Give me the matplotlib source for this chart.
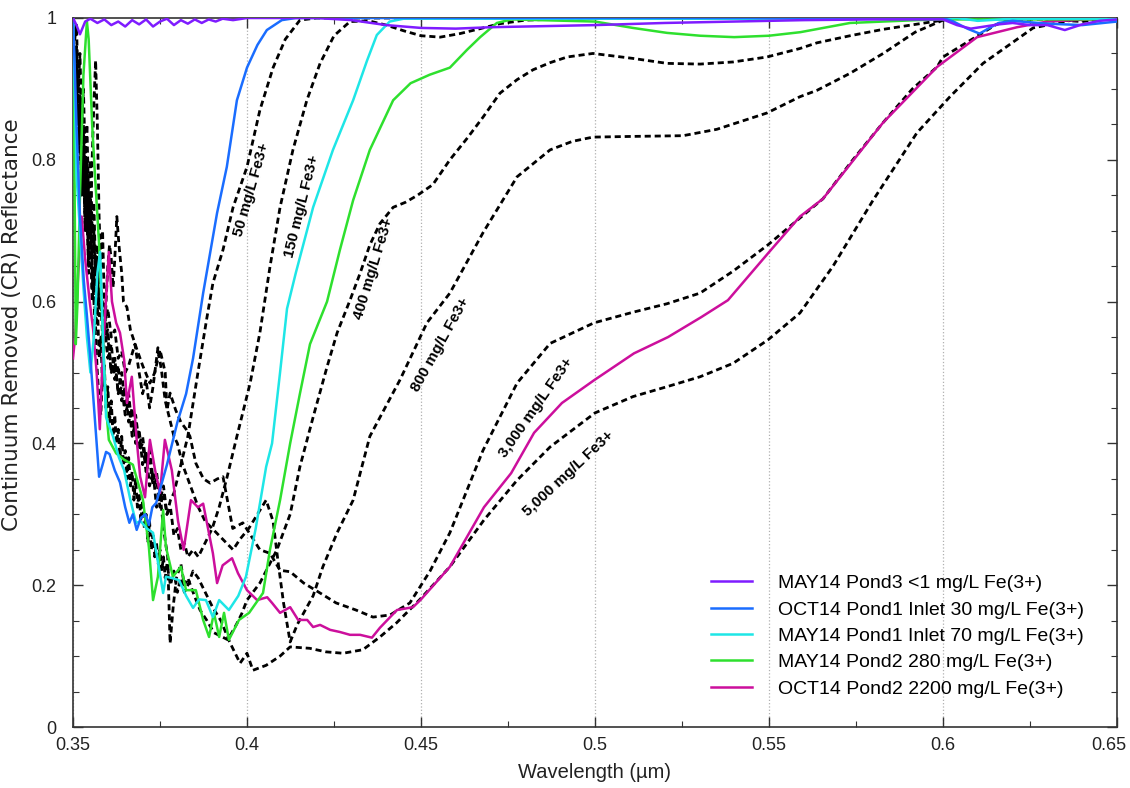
import matplotlib
matplotlib.use("Agg")
import matplotlib.pyplot as plt
import matplotlib.ticker as ticker
import matplotlib.transforms as mtransforms
import numpy as np

plt.rcParams['font.family'] = ['Liberation Sans', 'DejaVu Sans']

# (wavelength um, continuum removed reflectance) for each field spectrum
may14_pond3 = np.array([
    (0.350, 1.000), (0.351, 0.990), (0.352, 0.977), (0.3535, 0.995), (0.355, 0.999),
    (0.357, 0.993), (0.359, 0.998), (0.361, 0.990), (0.363, 0.995), (0.365, 0.988),
    (0.367, 0.997), (0.369, 0.991), (0.371, 0.998), (0.373, 0.988), (0.375, 0.995),
    (0.377, 0.999), (0.379, 0.990), (0.381, 0.997), (0.383, 0.992), (0.385, 0.998),
    (0.387, 0.993), (0.389, 0.998), (0.391, 0.995), (0.393, 0.999), (0.396, 0.997),
    (0.400, 1.000), (0.420, 1.000), (0.430, 0.997), (0.440, 0.990), (0.450, 0.986),
    (0.460, 0.985), (0.470, 0.987), (0.480, 0.988), (0.500, 0.990), (0.520, 0.993),
    (0.540, 0.995), (0.560, 0.997), (0.580, 0.998), (0.600, 0.998), (0.604, 0.990),
    (0.608, 0.985), (0.612, 0.988), (0.616, 0.991), (0.620, 0.993), (0.625, 0.990),
    (0.630, 0.990), (0.635, 0.983), (0.640, 0.991), (0.645, 0.996), (0.650, 0.998)])

oct14_pond1 = np.array([
    (0.350, 1.000), (0.3505, 0.93), (0.351, 0.85), (0.352, 0.72), (0.3531, 0.63),
    (0.354, 0.58), (0.355, 0.52), (0.3565, 0.42), (0.3575, 0.353), (0.3585, 0.37),
    (0.3595, 0.388), (0.3605, 0.385), (0.362, 0.362), (0.3635, 0.345), (0.365, 0.31),
    (0.3662, 0.288), (0.3672, 0.30), (0.3683, 0.278), (0.3695, 0.295), (0.3708, 0.30),
    (0.3718, 0.285), (0.3728, 0.31), (0.3739, 0.316), (0.375, 0.335), (0.377, 0.37),
    (0.380, 0.43), (0.3825, 0.47), (0.3845, 0.52), (0.3874, 0.612), (0.3914, 0.725),
    (0.3942, 0.79), (0.3971, 0.884), (0.400, 0.93), (0.403, 0.962), (0.4057, 0.983),
    (0.410, 0.997), (0.414, 1.000), (0.600, 1.000), (0.603, 0.995), (0.607, 0.985),
    (0.6105, 0.978), (0.613, 0.985), (0.616, 0.993), (0.620, 0.996), (0.630, 0.992),
    (0.640, 0.990), (0.650, 0.995)])

may14_pond1 = np.array([
    (0.350, 1.000), (0.3505, 0.90), (0.351, 0.78), (0.352, 0.70), (0.353, 0.62),
    (0.354, 0.55), (0.355, 0.50), (0.356, 0.55), (0.357, 0.64), (0.3578, 0.67),
    (0.3586, 0.55), (0.3595, 0.437), (0.3615, 0.41), (0.3632, 0.38), (0.3647, 0.362),
    (0.3665, 0.32), (0.3681, 0.288), (0.3695, 0.29), (0.3712, 0.28), (0.373, 0.274),
    (0.3745, 0.23), (0.3759, 0.189), (0.3767, 0.212), (0.3785, 0.21), (0.3805, 0.207),
    (0.3825, 0.185), (0.3845, 0.168), (0.3862, 0.18), (0.3882, 0.179), (0.3902, 0.155),
    (0.392, 0.179), (0.3948, 0.165), (0.3975, 0.185), (0.3997, 0.212), (0.4025, 0.28),
    (0.4055, 0.367), (0.4072, 0.40), (0.4095, 0.50), (0.4115, 0.590), (0.4140, 0.640),
    (0.4175, 0.705), (0.419, 0.733), (0.4247, 0.814), (0.4305, 0.884), (0.4345, 0.94),
    (0.4373, 0.976), (0.441, 0.995), (0.445, 0.999), (0.600, 0.999), (0.604, 1.000),
    (0.610, 0.996), (0.620, 0.999), (0.650, 0.999)])

may14_pond2 = np.array([
    (0.350, 1.000), (0.3504, 0.80), (0.3508, 0.54), (0.3513, 0.60), (0.352, 0.75),
    (0.353, 0.92), (0.354, 0.995), (0.3545, 0.97), (0.3555, 0.85), (0.3563, 0.78),
    (0.3575, 0.68), (0.3586, 0.55), (0.3595, 0.45), (0.3603, 0.405), (0.3624, 0.386),
    (0.3647, 0.377), (0.3672, 0.37), (0.3701, 0.32), (0.3718, 0.254), (0.373, 0.179),
    (0.3744, 0.212), (0.3759, 0.306), (0.3767, 0.254), (0.3787, 0.212), (0.381, 0.226),
    (0.3825, 0.193), (0.3853, 0.193), (0.3874, 0.151), (0.3891, 0.127), (0.3905, 0.161),
    (0.392, 0.127), (0.3934, 0.161), (0.3948, 0.123), (0.3977, 0.151), (0.4006, 0.161),
    (0.4026, 0.175), (0.4046, 0.189), (0.4066, 0.25), (0.4095, 0.32), (0.4124, 0.40),
    (0.4152, 0.47), (0.4181, 0.54), (0.423, 0.60), (0.4267, 0.673), (0.4305, 0.743),
    (0.4353, 0.814), (0.442, 0.884), (0.447, 0.908), (0.4525, 0.92), (0.4583, 0.93),
    (0.4632, 0.955), (0.467, 0.973), (0.4718, 0.993), (0.476, 0.998), (0.500, 0.995),
    (0.5109, 0.986), (0.5207, 0.979), (0.5302, 0.975), (0.540, 0.973), (0.550, 0.975),
    (0.559, 0.980), (0.5733, 0.993), (0.5925, 0.997), (0.600, 0.998), (0.650, 0.998)])

oct14_pond2 = np.array([
    (0.350, 0.52), (0.3506, 0.55), (0.3515, 0.64), (0.3525, 0.72), (0.3535, 0.66),
    (0.3548, 0.60), (0.3558, 0.56), (0.3568, 0.50), (0.3577, 0.42), (0.3586, 0.53),
    (0.3597, 0.62), (0.3603, 0.67), (0.3612, 0.60), (0.3624, 0.57), (0.3635, 0.556),
    (0.3647, 0.518), (0.3655, 0.457), (0.3669, 0.494), (0.3683, 0.405), (0.3693, 0.353),
    (0.3707, 0.324), (0.3721, 0.405), (0.3736, 0.362), (0.375, 0.33), (0.3764, 0.405),
    (0.3784, 0.362), (0.3802, 0.29), (0.3818, 0.25), (0.3839, 0.32), (0.3859, 0.31),
    (0.3874, 0.315), (0.3902, 0.245), (0.3914, 0.203), (0.393, 0.228), (0.3957, 0.238),
    (0.3974, 0.217), (0.400, 0.193), (0.4029, 0.179), (0.4058, 0.183), (0.4072, 0.175),
    (0.4095, 0.161), (0.4124, 0.169), (0.4147, 0.151), (0.4173, 0.151), (0.419, 0.141),
    (0.421, 0.144), (0.4239, 0.137), (0.4267, 0.134), (0.4296, 0.130), (0.4325, 0.130),
    (0.4359, 0.126), (0.4382, 0.140), (0.4431, 0.165), (0.4477, 0.169), (0.450, 0.180),
    (0.4583, 0.226), (0.4681, 0.31), (0.4759, 0.358), (0.4825, 0.415), (0.4905, 0.457),
    (0.4997, 0.489), (0.5112, 0.527), (0.521, 0.550), (0.5305, 0.578), (0.5382, 0.602),
    (0.5497, 0.668), (0.5589, 0.72), (0.5655, 0.745), (0.5827, 0.852), (0.5983, 0.931),
    (0.6098, 0.973), (0.6213, 0.987), (0.630, 0.995), (0.650, 1.000)])

# laboratory Fe3+ standards (dashed)
std_50 = np.array([
    (0.350, 1.000), (0.3505, 0.97), (0.351, 0.99), (0.3515, 0.90), (0.352, 0.95),
    (0.3525, 0.85), (0.353, 0.90), (0.3535, 0.80), (0.354, 0.85), (0.3545, 0.74),
    (0.355, 0.80), (0.3555, 0.70), (0.356, 0.74), (0.3565, 0.64), (0.357, 0.68),
    (0.3575, 0.60), (0.358, 0.62), (0.359, 0.55), (0.360, 0.56), (0.361, 0.50),
    (0.362, 0.52), (0.363, 0.47), (0.364, 0.48), (0.365, 0.44), (0.366, 0.46),
    (0.367, 0.41), (0.368, 0.43), (0.369, 0.39), (0.370, 0.40), (0.371, 0.36),
    (0.372, 0.38), (0.373, 0.34), (0.374, 0.35), (0.375, 0.31), (0.376, 0.33),
    (0.377, 0.30), (0.378, 0.32), (0.379, 0.33), (0.380, 0.35), (0.3815, 0.38),
    (0.383, 0.41), (0.3859, 0.50), (0.3885, 0.578), (0.3902, 0.626), (0.3931, 0.673),
    (0.396, 0.733), (0.400, 0.79), (0.4037, 0.87), (0.4075, 0.93), (0.411, 0.97),
    (0.4152, 0.997), (0.420, 1.000), (0.600, 1.000), (0.605, 1.003), (0.610, 0.997),
    (0.615, 0.999), (0.620, 1.000), (0.650, 1.000)])

std_150 = np.array([
    (0.350, 0.98), (0.3505, 0.90), (0.351, 0.93), (0.3515, 0.82), (0.352, 0.87),
    (0.3525, 0.75), (0.353, 0.80), (0.3535, 0.70), (0.354, 0.72), (0.3545, 0.64),
    (0.355, 0.70), (0.3555, 0.80), (0.356, 0.88), (0.3565, 0.94), (0.357, 0.85),
    (0.3575, 0.72), (0.358, 0.65), (0.3585, 0.70), (0.359, 0.60), (0.360, 0.55),
    (0.361, 0.50), (0.362, 0.52), (0.363, 0.47), (0.364, 0.50), (0.365, 0.45),
    (0.366, 0.47), (0.367, 0.42), (0.368, 0.44), (0.369, 0.40), (0.370, 0.41),
    (0.371, 0.37), (0.372, 0.39), (0.373, 0.35), (0.374, 0.36), (0.375, 0.32),
    (0.376, 0.34), (0.377, 0.30), (0.378, 0.31), (0.379, 0.27), (0.380, 0.28),
    (0.381, 0.25), (0.382, 0.26), (0.383, 0.24), (0.3845, 0.25), (0.386, 0.24),
    (0.388, 0.26), (0.390, 0.28), (0.392, 0.31), (0.3943, 0.353), (0.3971, 0.41),
    (0.4009, 0.485), (0.4037, 0.556), (0.4066, 0.649), (0.4095, 0.733), (0.4132, 0.814),
    (0.4172, 0.884), (0.421, 0.936), (0.425, 0.975), (0.4296, 0.995), (0.435, 0.996),
    (0.440, 0.990), (0.445, 0.982), (0.450, 0.975), (0.4555, 0.973), (0.4612, 0.978),
    (0.467, 0.985), (0.4727, 0.992), (0.480, 0.997), (0.500, 1.000), (0.600, 1.000),
    (0.6035, 0.998), (0.608, 1.003), (0.613, 1.000), (0.620, 0.998), (0.650, 1.000)])

std_400 = np.array([
    (0.350, 0.99), (0.3505, 0.90), (0.351, 0.95), (0.3515, 0.86), (0.352, 0.90),
    (0.3525, 0.80), (0.353, 0.84), (0.3535, 0.76), (0.354, 0.80), (0.3545, 0.70),
    (0.355, 0.74), (0.3555, 0.66), (0.356, 0.70), (0.3565, 0.62), (0.357, 0.66),
    (0.3575, 0.58), (0.358, 0.60), (0.3585, 0.55), (0.359, 0.57), (0.360, 0.52),
    (0.361, 0.54), (0.362, 0.49), (0.363, 0.51), (0.364, 0.46), (0.365, 0.48),
    (0.366, 0.43), (0.367, 0.45), (0.368, 0.40), (0.369, 0.42), (0.370, 0.37),
    (0.371, 0.39), (0.372, 0.34), (0.373, 0.36), (0.374, 0.31), (0.375, 0.33),
    (0.376, 0.28), (0.3772, 0.24), (0.3779, 0.118), (0.3788, 0.17), (0.3797, 0.21),
    (0.381, 0.23), (0.382, 0.20), (0.383, 0.21), (0.3845, 0.19), (0.3865, 0.165),
    (0.3885, 0.15), (0.3905, 0.133), (0.3925, 0.128), (0.3945, 0.123), (0.397, 0.145),
    (0.3985, 0.16), (0.400, 0.179), (0.4037, 0.203), (0.4086, 0.25), (0.4124, 0.30),
    (0.4152, 0.367), (0.419, 0.437), (0.423, 0.508), (0.4259, 0.556), (0.4296, 0.602),
    (0.4325, 0.64), (0.4353, 0.68), (0.4382, 0.71), (0.442, 0.733), (0.4455, 0.74),
    (0.449, 0.75), (0.4534, 0.765), (0.4583, 0.80), (0.4632, 0.83), (0.4678, 0.86),
    (0.4727, 0.894), (0.4776, 0.913), (0.4822, 0.927), (0.4871, 0.937), (0.492, 0.945),
    (0.4994, 0.950), (0.5109, 0.943), (0.5207, 0.936), (0.5302, 0.935), (0.5397, 0.938),
    (0.5494, 0.945), (0.5589, 0.957), (0.5638, 0.965), (0.5733, 0.975), (0.5828, 0.984),
    (0.5934, 0.992), (0.600, 0.997), (0.605, 1.004), (0.610, 1.005), (0.615, 1.000),
    (0.620, 0.998), (0.625, 1.003), (0.630, 1.000), (0.640, 0.997), (0.650, 1.000)])

std_800 = np.array([
    (0.350, 1.000), (0.3505, 0.93), (0.351, 0.96), (0.3515, 0.85), (0.352, 0.88),
    (0.3525, 0.78), (0.353, 0.82), (0.3535, 0.72), (0.354, 0.76), (0.3545, 0.66),
    (0.355, 0.70), (0.3555, 0.62), (0.356, 0.65), (0.357, 0.60), (0.358, 0.62),
    (0.359, 0.57), (0.360, 0.59), (0.361, 0.55), (0.362, 0.56), (0.363, 0.52),
    (0.364, 0.53), (0.365, 0.50), (0.366, 0.51), (0.3678, 0.54), (0.369, 0.50),
    (0.370, 0.47), (0.371, 0.49), (0.372, 0.45), (0.373, 0.48), (0.3744, 0.535),
    (0.3755, 0.50), (0.3765, 0.46), (0.3775, 0.44), (0.379, 0.41), (0.380, 0.40),
    (0.3815, 0.37), (0.383, 0.35), (0.3845, 0.33), (0.386, 0.31), (0.388, 0.29),
    (0.390, 0.28), (0.392, 0.27), (0.394, 0.26), (0.396, 0.25), (0.398, 0.265),
    (0.4005, 0.28), (0.403, 0.30), (0.4055, 0.32), (0.4075, 0.29), (0.409, 0.23),
    (0.4105, 0.175), (0.4124, 0.12), (0.4145, 0.145), (0.419, 0.185), (0.4218, 0.226),
    (0.4259, 0.274), (0.4305, 0.32), (0.4353, 0.41), (0.444, 0.49), (0.4517, 0.57),
    (0.4583, 0.612), (0.4678, 0.697), (0.4776, 0.776), (0.4871, 0.814), (0.4935, 0.826),
    (0.4994, 0.832), (0.5109, 0.833), (0.5253, 0.834), (0.535, 0.843), (0.5494, 0.866),
    (0.5589, 0.889), (0.5638, 0.898), (0.5733, 0.922), (0.5828, 0.950), (0.592, 0.980),
    (0.600, 0.997), (0.605, 1.003), (0.610, 1.000), (0.620, 1.000), (0.650, 1.000)])

std_3000 = np.array([
    (0.350, 1.000), (0.3505, 0.90), (0.351, 0.95), (0.3515, 0.85), (0.352, 0.90),
    (0.3525, 0.80), (0.353, 0.85), (0.3535, 0.74), (0.354, 0.80), (0.3545, 0.70),
    (0.355, 0.75), (0.3555, 0.64), (0.356, 0.60), (0.3565, 0.55), (0.357, 0.50),
    (0.3575, 0.46), (0.358, 0.44), (0.3585, 0.50), (0.359, 0.55), (0.3595, 0.60),
    (0.360, 0.65), (0.3605, 0.68), (0.361, 0.66), (0.3615, 0.62), (0.362, 0.66),
    (0.3626, 0.72), (0.3632, 0.68), (0.364, 0.64), (0.3645, 0.60), (0.3655, 0.592),
    (0.3665, 0.56), (0.3684, 0.532), (0.370, 0.51), (0.3721, 0.485), (0.3735, 0.50),
    (0.375, 0.532), (0.3765, 0.50), (0.377, 0.447), (0.3779, 0.471), (0.3795, 0.447),
    (0.381, 0.43), (0.3825, 0.42), (0.3836, 0.41), (0.3853, 0.372), (0.3875, 0.35),
    (0.3894, 0.344), (0.3915, 0.35), (0.3931, 0.353), (0.3959, 0.28), (0.3988, 0.288),
    (0.4037, 0.25), (0.4066, 0.245), (0.4095, 0.221), (0.4124, 0.219), (0.4163, 0.203),
    (0.421, 0.189), (0.4256, 0.175), (0.4313, 0.165), (0.4362, 0.155), (0.4411, 0.158),
    (0.4468, 0.175), (0.4526, 0.22), (0.4583, 0.274), (0.4678, 0.39), (0.4776, 0.485),
    (0.4871, 0.541), (0.4997, 0.570), (0.5109, 0.585), (0.5207, 0.597), (0.5302, 0.612),
    (0.5397, 0.643), (0.5497, 0.680), (0.5589, 0.718), (0.5655, 0.745), (0.5741, 0.80),
    (0.5827, 0.852), (0.5912, 0.90), (0.5983, 0.931), (0.600, 0.945), (0.605, 0.960),
    (0.610, 0.975), (0.615, 0.990), (0.620, 1.000), (0.625, 1.004), (0.630, 0.998),
    (0.640, 0.995), (0.650, 1.000)])

std_5000 = np.array([
    (0.350, 1.000), (0.3505, 0.88), (0.351, 0.93), (0.3515, 0.80), (0.352, 0.86),
    (0.3525, 0.75), (0.353, 0.80), (0.3535, 0.70), (0.354, 0.74), (0.3545, 0.65),
    (0.355, 0.70), (0.3555, 0.60), (0.356, 0.64), (0.3565, 0.56), (0.357, 0.60),
    (0.3575, 0.52), (0.358, 0.55), (0.3585, 0.48), (0.359, 0.51), (0.3595, 0.45),
    (0.360, 0.48), (0.3605, 0.43), (0.361, 0.46), (0.3615, 0.41), (0.362, 0.44),
    (0.3625, 0.40), (0.363, 0.42), (0.3635, 0.38), (0.364, 0.41), (0.3645, 0.37),
    (0.365, 0.39), (0.3655, 0.35), (0.366, 0.38), (0.3665, 0.34), (0.367, 0.36),
    (0.3675, 0.32), (0.368, 0.35), (0.3685, 0.31), (0.369, 0.33), (0.3695, 0.29),
    (0.370, 0.32), (0.3705, 0.28), (0.371, 0.30), (0.3715, 0.26), (0.372, 0.29),
    (0.3725, 0.25), (0.373, 0.27), (0.3735, 0.24), (0.374, 0.26), (0.3745, 0.23),
    (0.375, 0.25), (0.3755, 0.22), (0.376, 0.24), (0.3765, 0.21), (0.377, 0.23),
    (0.378, 0.20), (0.379, 0.22), (0.380, 0.19), (0.381, 0.21), (0.382, 0.19),
    (0.383, 0.20), (0.3845, 0.22), (0.386, 0.21), (0.388, 0.19), (0.390, 0.17),
    (0.3925, 0.15), (0.395, 0.12), (0.398, 0.09), (0.400, 0.104), (0.4017, 0.08),
    (0.4055, 0.087), (0.4095, 0.10), (0.4124, 0.113), (0.418, 0.111), (0.4227, 0.106),
    (0.4276, 0.104), (0.4333, 0.109), (0.4382, 0.127), (0.443, 0.147), (0.4497, 0.18),
    (0.4583, 0.226), (0.4681, 0.292), (0.4776, 0.348), (0.4871, 0.395), (0.500, 0.443),
    (0.5109, 0.466), (0.5207, 0.48), (0.5302, 0.494), (0.5397, 0.513), (0.5497, 0.546),
    (0.5589, 0.584), (0.5684, 0.65), (0.5799, 0.743), (0.5925, 0.838), (0.602, 0.889),
    (0.6115, 0.936), (0.6259, 0.986), (0.6402, 1.000), (0.650, 1.000)])

field_spectra = [may14_pond3, oct14_pond1, may14_pond1, may14_pond2, oct14_pond2]
field_names = ['MAY14 Pond3 <1 mg/L Fe(3+)', 'OCT14 Pond1 Inlet 30 mg/L Fe(3+)',
               'MAY14 Pond1 Inlet 70 mg/L Fe(3+)', 'MAY14 Pond2 280 mg/L Fe(3+)',
               'OCT14 Pond2 2200 mg/L Fe(3+)']
field_colors = ['#7f1cff', '#1a6dff', '#1ee6e6', '#2ee02e', '#cc0f9c']

standards = [std_50, std_150, std_400, std_800, std_3000, std_5000]
std_labels = ['50 mg/L Fe3+', '150 mg/L Fe3+', '400 mg/L Fe3+', '800 mg/L Fe3+',
              '3,000 mg/L Fe3+', '5,000 mg/L Fe3+']
# label anchor (wavelength, reflectance) and angle
std_label_pos = [(0.4014, 0.758), (0.4157, 0.734), (0.4365, 0.647),
                 (0.4557, 0.539), (0.4830, 0.450), (0.4925, 0.358)]
std_label_rot = [74, 76, 73, 61, 55, 43]

fig = plt.figure(figsize=(11.3, 7.88), dpi=100)
ax = fig.add_axes([73 / 1130, 61 / 788, 1044 / 1130, 709 / 788])

for spec in standards:
    ax.plot(spec[:, 0], spec[:, 1], color='black', lw=2.0,
            linestyle=(0, (2.2, 1.4)), zorder=2)

handles = []
for i, (spec, name, col) in enumerate(zip(field_spectra, field_names, field_colors)):
    h, = ax.plot(spec[:, 0], spec[:, 1], color=col, lw=1.8, label=name,
                 zorder=3 + (len(field_spectra) - i))
    handles.append(h)

for txt, (x, y), rot in zip(std_labels, std_label_pos, std_label_rot):
    ax.text(x, y, txt, rotation=rot, rotation_mode='anchor', ha='center',
            va='center', fontsize=11, fontweight='bold', color='black', zorder=10)

ax.set_xlim(0.35, 0.65)
ax.set_ylim(0, 1)
ax.set_xticks(np.arange(0.35, 0.651, 0.05))
ax.set_yticks(np.arange(0, 1.01, 0.2))
ax.xaxis.set_minor_locator(ticker.MultipleLocator(0.025))
ax.yaxis.set_minor_locator(ticker.MultipleLocator(0.05))
ax.xaxis.set_major_formatter(ticker.FormatStrFormatter('%g'))
ax.yaxis.set_major_formatter(ticker.FormatStrFormatter('%g'))
ax.tick_params(which='both', direction='in', top=True, right=True,
               color='#333333', labelcolor='#222222')
ax.tick_params(which='major', length=7, width=1.0, labelsize=13)
ax.tick_params(axis='x', which='major', pad=7)
ax.tick_params(axis='y', which='major', pad=12)
ax.tick_params(which='minor', length=4, width=0.8)
ax.xaxis.grid(True, which='major', linestyle=':', color='#b0b0b0', lw=0.9)
for sp in ax.spines.values():
    sp.set_color('#333333')
    sp.set_linewidth(1.2)

ax.set_xlabel('Wavelength (µm)', fontsize=14.5, color='#222222', labelpad=7)
ax.set_ylabel('Continuum Removed (CR) Reflectance', fontsize=15.5,
              color='#222222', family=['DejaVu Sans'])
ax.yaxis.set_label_coords(-0.049, 0.567)

# keep the last x tick label inside the canvas
fig.canvas.draw()
last = ax.get_xticklabels()[-1]
last.set_transform(last.get_transform() +
                   mtransforms.ScaledTranslation(-6 / 72, 0, fig.dpi_scale_trans))

ax.legend(handles=handles, loc='upper left', bbox_to_anchor=(0.611, 0.215),
          frameon=False, fontsize=14, handlelength=2.1, handletextpad=1.35,
          labelspacing=0.45, borderpad=0, borderaxespad=0)

fig.savefig('out.png', dpi=100)
